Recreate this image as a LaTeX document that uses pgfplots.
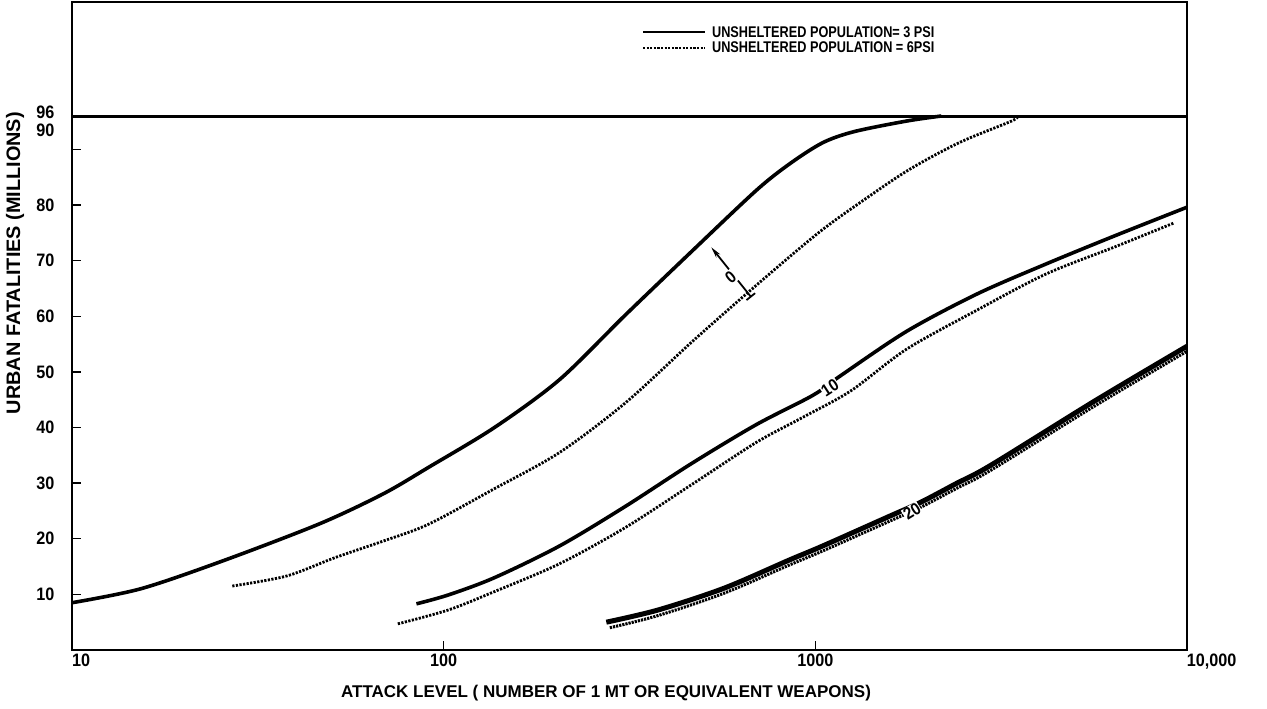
\documentclass[border=0pt]{standalone}
\usepackage{fontspec}
\usepackage{pgfplots}
\pgfplotsset{compat=1.18}
\usetikzlibrary{arrows.meta}
\newfontfamily\chartfont{Liberation Sans}[FakeStretch=0.9]
\newfontfamily\legendfont{Liberation Sans}[FakeStretch=0.82]
\newfontfamily\xlabfont{Liberation Sans}
\newfontfamily\ylabfont{Liberation Sans}[FakeStretch=1.02]

% Urban fatalities versus attack level, log scale in x
\pgfplotstableread{
x y
10 8.5
15.3 11.0
25.4 16.0
46.4 22.7
68.9 28.1
91.4 32.9
137 40.0
205 48.6
308 60.2
464 71.6
693 82.6
853 87.4
1047 91.2
1273 93.2
1762 95.1
2183 96.0
}\shelterzerothree
\pgfplotstableread{
x y
27 11.5
37.8 13.3
51 16.6
68.9 19.6
91 22.6
137 29.0
205 35.5
308 44.4
464 55.3
629 63.1
853 70.7
1047 75.6
1273 79.7
1762 86.1
2437 91.2
3375 95.1
3500 96.0
}\shelterzerosix
\pgfplotstableread{
x y
84.5 8.3
103 9.9
137 13.0
205 18.7
308 25.8
464 33.5
693 40.5
986 45.8
1169 49.3
1762 57.3
2723 64.0
4178 69.4
6471 74.6
10000 79.6
}\sheltertenthree
\pgfplotstableread{
x y
75.3 4.7
103 7.2
137 10.5
205 15.5
308 22.0
464 29.7
693 37.3
924 41.8
1247 46.6
1762 54.1
2723 61.1
4178 67.6
6471 72.6
9250 76.8
}\sheltertensix
\pgfplotstableread{
x y
274 5.0
378 7.2
568 11.1
853 16.2
1047 18.7
1578 24.0
1915 26.5
2391 29.9
2965 33.2
5690 44.9
10000 54.6
}\sheltertwentythree
\pgfplotstableread{
x y
280 4.0
378 6.2
568 10.2
853 15.3
1047 17.8
1578 23.1
1915 25.6
2391 29.0
2965 32.3
5690 44.0
10000 53.7
}\sheltertwentysix

\begin{document}
\begin{tikzpicture}
\path[use as bounding box] (0pt,0pt) rectangle (1267pt,709pt);
\begin{axis}[
  at={(72pt,59pt)}, anchor=south west,
  scale only axis, width=1115pt, height=648pt,
  xmode=log, xmin=10, xmax=10000, ymin=0, ymax=116.5,
  xtick={10,100,1000,10000},
  xticklabels={\makebox[0pt][l]{10},100,1000,\makebox[0pt][l]{10,000}},
  ytick={10,20,30,40,50,60,70,80,96},
  yticklabels={10,20,30,40,50,60,70,80,\raisebox{8pt}{96}},
  extra y ticks={90},
  extra y tick labels={90},
  extra y tick style={yticklabel style={yshift=19pt}},
  xminorticks=false, yminorticks=false,
  xtick pos=bottom, ytick pos=left,
  tick align=inside, major tick length=9pt,
  /pgf/number format/assume math mode=true,
  axis line style={line width=1.8pt},
  every tick/.style={line width=1.4pt, black},
  tick label style={font=\chartfont\bfseries\fontsize{18}{19}\selectfont},
  yticklabel style={xshift=-14pt},
  xlabel={ATTACK LEVEL ( NUMBER OF 1 MT OR EQUIVALENT WEAPONS)},
  ylabel={URBAN FATALITIES (MILLIONS)},
  xlabel style={at={(rel axis cs:0.479,-0.0664)}, anchor=center,
    font=\xlabfont\bfseries\fontsize{17}{19}\selectfont},
  ylabel style={at={(rel axis cs:-0.0511,0.597)}, anchor=center,
    font=\ylabfont\bfseries\fontsize{19.5}{22}\selectfont},
  legend style={at={(rel axis cs:0.511,0.966)}, anchor=north west,
    draw=none, fill=none, inner sep=0pt, row sep=-1pt,
    font=\legendfont\bfseries\fontsize{15.5}{15}\selectfont,
    cells={anchor=west}},
  legend image code/.code={\draw[#1, line width=2.2pt] (0pt,0pt) -- (62pt,0pt);},
  /tikz/every odd column/.style={column sep=4pt},
]
% saturation level
\addplot[black, line width=3pt, forget plot] coordinates {(10,96) (10000,96)};

\addplot[black, line width=3.6pt, smooth] table {\shelterzerothree};
\addlegendentry{UNSHELTERED POPULATION= 3 PSI}
\addplot[black, line width=2.8pt, smooth, dash pattern=on 2.2pt off 1.4pt] table {\shelterzerosix};
\addlegendentry{UNSHELTERED POPULATION = 6PSI}

\addplot[black, line width=3.6pt, smooth, forget plot] table {\sheltertenthree};
\addplot[black, line width=2.8pt, smooth, dash pattern=on 2.2pt off 1.4pt, forget plot] table {\sheltertensix};

\addplot[black, line width=3pt, smooth, dash pattern=on 2.2pt off 1.0pt, forget plot] table {\sheltertwentysix};
\addplot[black, line width=5pt, smooth, forget plot] table {\sheltertwentythree};

% curve labels
\draw[line width=1.8pt, {Stealth[length=11pt,width=5pt]}-{Bar[width=11pt]}]
  (axis cs:525,72.4) -- (axis cs:673,63.4);
\node[fill=white, inner sep=1pt, rotate=40,
  font=\chartfont\bfseries\fontsize{17}{18}\selectfont] at (axis cs:592,67.0) {0};
\node[fill=white, inner sep=0.5pt, rotate=33,
  font=\chartfont\bfseries\fontsize{17}{18}\selectfont] at (axis cs:1095,47.2) {10};
\node[fill=white, inner sep=0.5pt, rotate=32,
  font=\chartfont\bfseries\fontsize{17}{18}\selectfont] at (axis cs:1820,24.9) {20};
\end{axis}
\end{tikzpicture}
\end{document}
